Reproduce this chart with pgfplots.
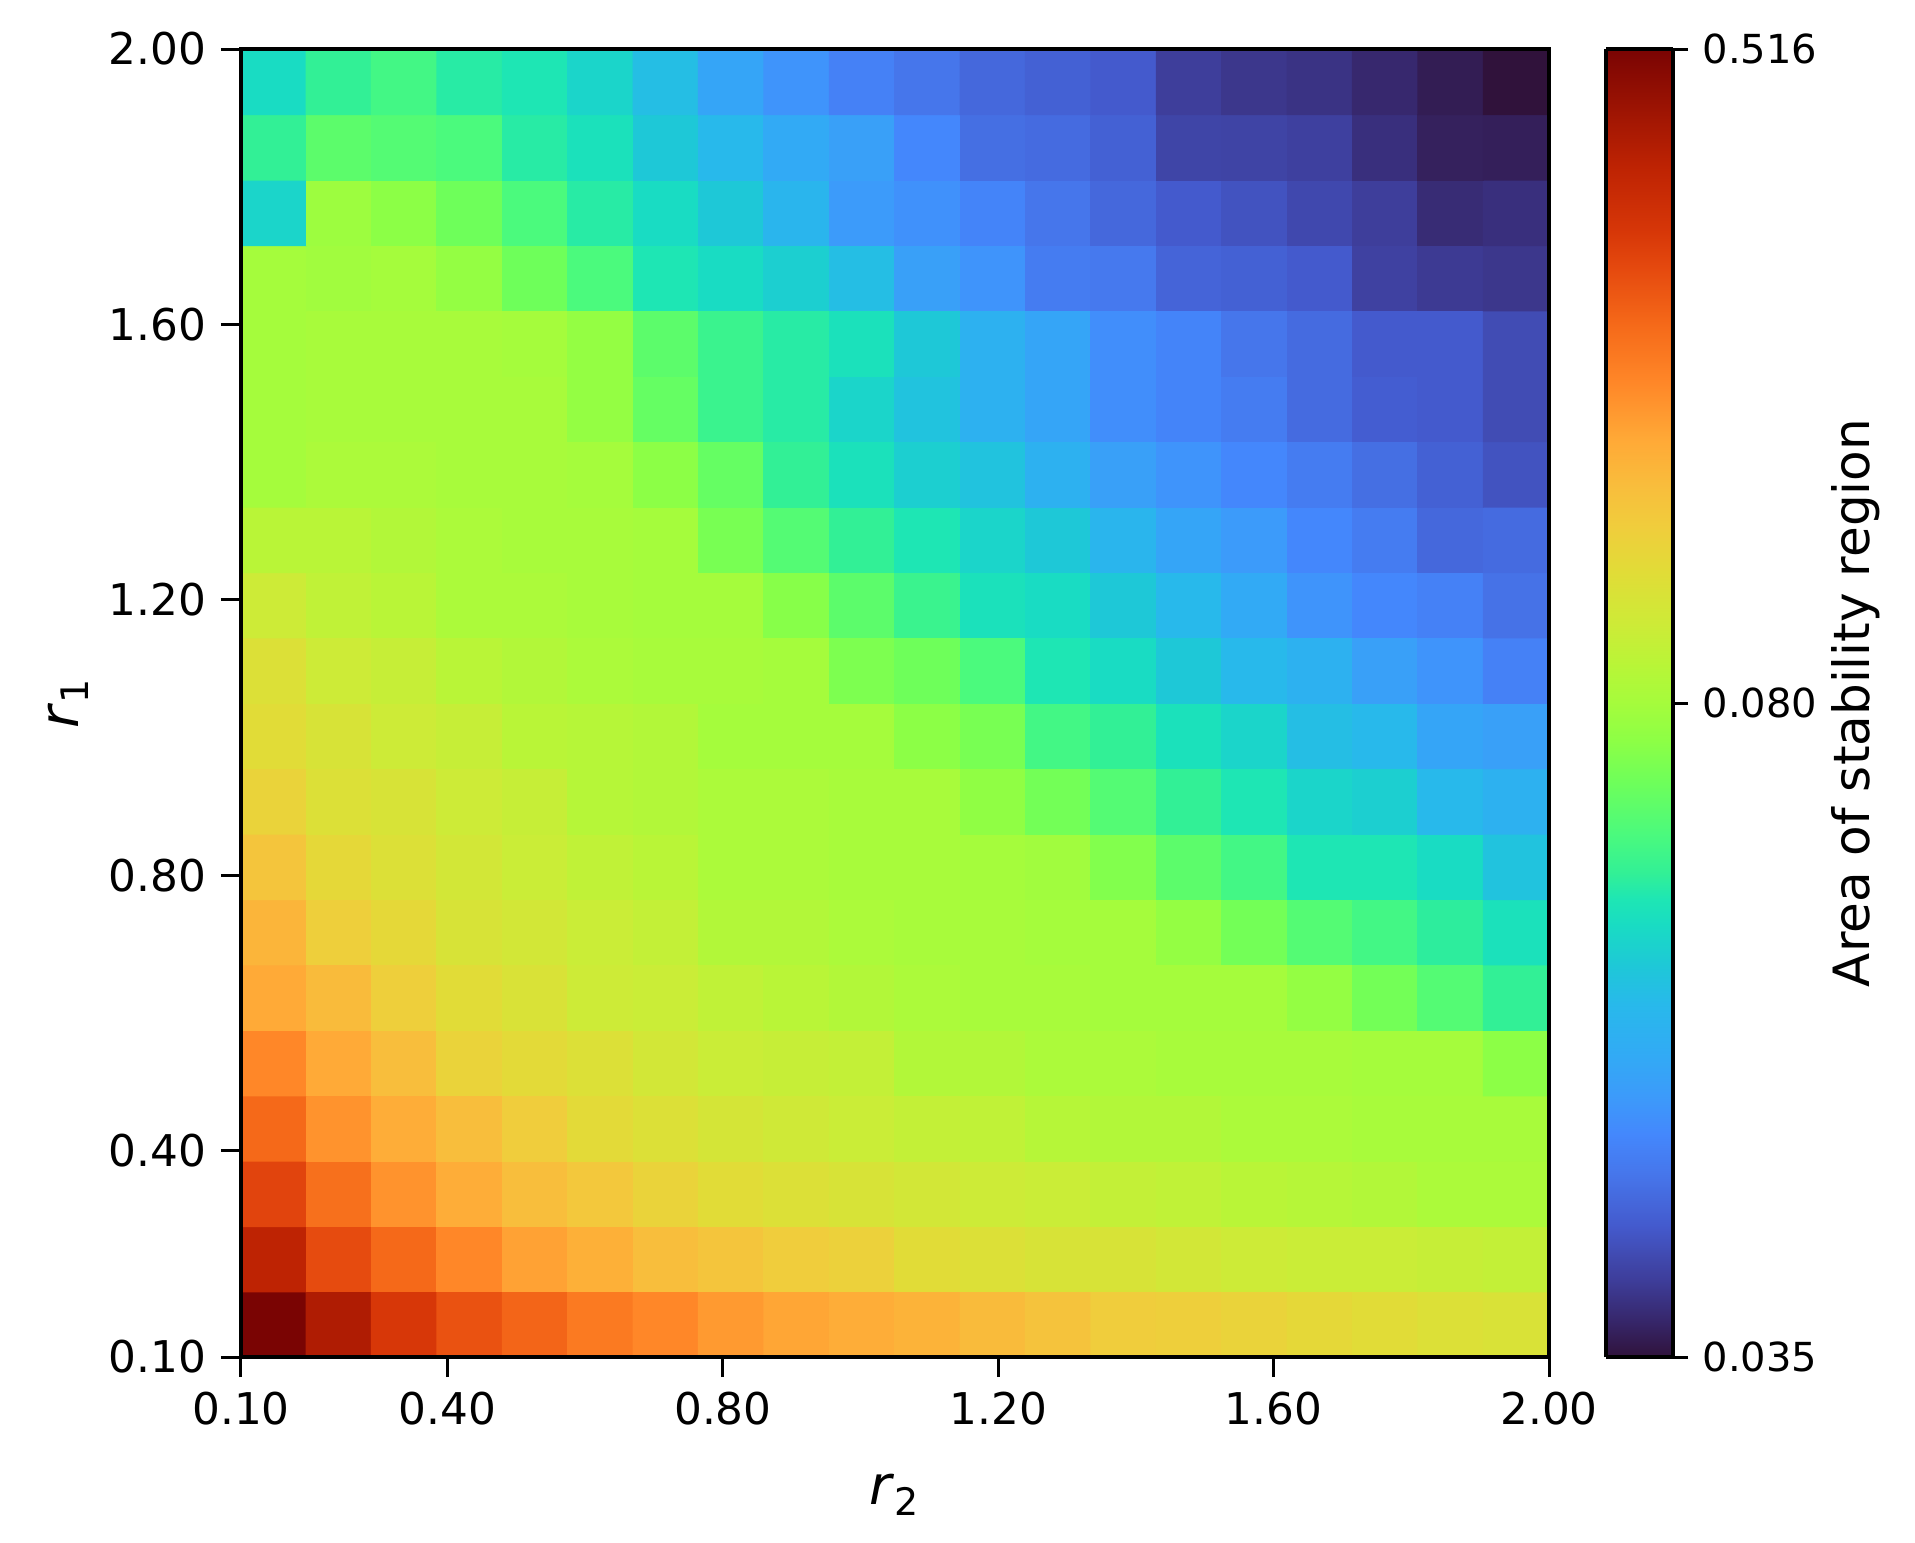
\documentclass[border=0pt]{standalone}
\usepackage{pgfplots}
\pgfplotsset{compat=1.18}
\usepackage{fontspec}
\setmainfont{DejaVu Sans}
\begin{document}
\begin{tikzpicture}
\useasboundingbox (-57.84pt,-44.4pt) rectangle (401.76pt,325.68pt);
\begin{axis}[
  scale only axis, width=313.92pt, height=313.92pt,
  at={(0,0)}, anchor=south west,
  xmin=0.1, xmax=2.0, ymin=0.1, ymax=2.0,
  xtick={0.1,0.4,0.8,1.2,1.6,2.0}, xticklabels={0.10,0.40,0.80,1.20,1.60,2.00},
  ytick={0.1,0.4,0.8,1.2,1.6,2.0}, yticklabels={0.10,0.40,0.80,1.20,1.60,2.00},
  /pgf/number format/assume math mode=true,
  tick align=outside, xtick pos=bottom, ytick pos=left,
  major tick length=4.8pt,
  every tick/.style={black, line width=0.72pt},
  axis line style={line width=0.8pt},
  axis on top,
  ticklabel style={font=\fontsize{10.5}{12}\selectfont},
  xlabel={\textit{r}\textsubscript{2}},
  ylabel={\textit{r}\textsubscript{1}},
  every axis x label/.style={at={(axis description cs:0.5,0)}, yshift=-33pt, anchor=center, font=\fontsize{13}{15}\selectfont},
  every axis y label/.style={at={(axis description cs:0,0.5)}, xshift=-41.5pt, rotate=90, anchor=center, font=\fontsize{13}{15}\selectfont},
  colormap={turbo}{rgb255(0pt)=(48,18,59) rgb255(30pt)=(55,40,110) rgb255(60pt)=(62,62,155)
    rgb255(100pt)=(68,90,205) rgb255(140pt)=(70,118,235) rgb255(170pt)=(68,135,252)
    rgb255(200pt)=(60,155,250) rgb255(230pt)=(50,170,245) rgb255(270pt)=(40,185,235)
    rgb255(300pt)=(30,200,215) rgb255(330pt)=(25,220,195) rgb255(350pt)=(30,230,180)
    rgb255(370pt)=(50,240,150) rgb255(400pt)=(75,250,125) rgb255(440pt)=(110,255,90)
    rgb255(470pt)=(140,255,70) rgb255(500pt)=(165,252,60) rgb255(530pt)=(185,245,55)
    rgb255(560pt)=(205,235,55) rgb255(600pt)=(225,220,55) rgb255(635pt)=(240,205,60)
    rgb255(665pt)=(248,190,60) rgb255(700pt)=(255,170,55) rgb255(745pt)=(255,135,40)
    rgb255(790pt)=(245,105,25) rgb255(830pt)=(230,75,15) rgb255(860pt)=(215,55,8)
    rgb255(910pt)=(190,35,3) rgb255(1000pt)=(122,4,3)},
  point meta min=0, point meta max=1,
  colorbar shift/.style={xshift=13.68pt},
  colorbar sampled={surf, shader=interp, samples=101},
  colorbar style={
    at={(parent axis.north east)}, anchor=north west,
    scale only axis, width=16.08pt, height=313.92pt,
    xmin=0, xmax=1, xtick=\empty,
    ytick={0,0.5,1}, yticklabels={0.035,0.080,0.516},
    ytick pos=right, yticklabel pos=right, tick align=outside,
    major tick length=3.6pt,
    every tick/.style={black, line width=0.72pt},
    axis line style={line width=0.8pt},
    yticklabel style={font=\fontsize{9.6}{11}\selectfont},
    ylabel={Area of stability region},
    every axis y label/.style={at={(axis description cs:1,0.5)}, xshift=43.92pt, rotate=90, anchor=center, font=\fontsize{12}{14}\selectfont},
  },
]
\addplot[matrix plot*, mesh/cols=20, point meta=explicit]
  table[row sep=\\, x expr={0.1475+0.095*mod(\coordindex,20)}, y expr={0.1475+0.095*floor(\coordindex/20+0.01)}, meta=c]{
c\\
1.00\\ 0.93\\ 0.86\\ 0.82\\ 0.795\\ 0.765\\ 0.745\\ 0.72\\ 0.705\\ 0.695\\ 0.685\\ 0.67\\ 0.655\\ 0.635\\ 0.63\\ 0.62\\ 0.61\\ 0.60\\ 0.59\\ 0.585\\
0.91\\ 0.83\\ 0.79\\ 0.745\\ 0.71\\ 0.69\\ 0.665\\ 0.65\\ 0.635\\ 0.625\\ 0.60\\ 0.59\\ 0.58\\ 0.58\\ 0.57\\ 0.56\\ 0.555\\ 0.555\\ 0.55\\ 0.545\\
0.84\\ 0.78\\ 0.73\\ 0.695\\ 0.665\\ 0.645\\ 0.62\\ 0.60\\ 0.59\\ 0.58\\ 0.57\\ 0.56\\ 0.555\\ 0.545\\ 0.54\\ 0.53\\ 0.525\\ 0.52\\ 0.51\\ 0.51\\
0.79\\ 0.73\\ 0.695\\ 0.665\\ 0.635\\ 0.605\\ 0.59\\ 0.575\\ 0.565\\ 0.555\\ 0.545\\ 0.54\\ 0.525\\ 0.52\\ 0.52\\ 0.51\\ 0.51\\ 0.505\\ 0.505\\ 0.505\\
0.745\\ 0.70\\ 0.665\\ 0.62\\ 0.605\\ 0.59\\ 0.57\\ 0.555\\ 0.55\\ 0.545\\ 0.52\\ 0.52\\ 0.51\\ 0.51\\ 0.505\\ 0.505\\ 0.505\\ 0.50\\ 0.50\\ 0.47\\
0.70\\ 0.67\\ 0.63\\ 0.60\\ 0.585\\ 0.56\\ 0.555\\ 0.54\\ 0.53\\ 0.52\\ 0.51\\ 0.505\\ 0.505\\ 0.50\\ 0.50\\ 0.50\\ 0.48\\ 0.445\\ 0.41\\ 0.37\\
0.68\\ 0.63\\ 0.61\\ 0.58\\ 0.57\\ 0.555\\ 0.545\\ 0.52\\ 0.52\\ 0.51\\ 0.505\\ 0.505\\ 0.50\\ 0.50\\ 0.48\\ 0.445\\ 0.41\\ 0.39\\ 0.365\\ 0.34\\
0.65\\ 0.61\\ 0.59\\ 0.57\\ 0.555\\ 0.54\\ 0.53\\ 0.51\\ 0.51\\ 0.505\\ 0.505\\ 0.50\\ 0.495\\ 0.46\\ 0.42\\ 0.39\\ 0.35\\ 0.35\\ 0.33\\ 0.29\\
0.62\\ 0.59\\ 0.58\\ 0.56\\ 0.55\\ 0.525\\ 0.52\\ 0.51\\ 0.51\\ 0.505\\ 0.505\\ 0.475\\ 0.445\\ 0.41\\ 0.37\\ 0.35\\ 0.32\\ 0.31\\ 0.27\\ 0.25\\
0.60\\ 0.58\\ 0.56\\ 0.55\\ 0.53\\ 0.525\\ 0.52\\ 0.50\\ 0.50\\ 0.50\\ 0.47\\ 0.45\\ 0.39\\ 0.37\\ 0.34\\ 0.32\\ 0.28\\ 0.27\\ 0.22\\ 0.21\\
0.59\\ 0.56\\ 0.55\\ 0.53\\ 0.52\\ 0.51\\ 0.505\\ 0.505\\ 0.50\\ 0.455\\ 0.44\\ 0.40\\ 0.35\\ 0.33\\ 0.30\\ 0.27\\ 0.25\\ 0.21\\ 0.19\\ 0.16\\
0.56\\ 0.54\\ 0.53\\ 0.51\\ 0.51\\ 0.505\\ 0.50\\ 0.50\\ 0.465\\ 0.42\\ 0.38\\ 0.34\\ 0.33\\ 0.30\\ 0.27\\ 0.23\\ 0.19\\ 0.17\\ 0.16\\ 0.135\\
0.53\\ 0.53\\ 0.52\\ 0.51\\ 0.505\\ 0.505\\ 0.50\\ 0.45\\ 0.41\\ 0.37\\ 0.35\\ 0.32\\ 0.30\\ 0.26\\ 0.22\\ 0.20\\ 0.17\\ 0.15\\ 0.12\\ 0.125\\
0.50\\ 0.51\\ 0.51\\ 0.505\\ 0.505\\ 0.50\\ 0.47\\ 0.43\\ 0.37\\ 0.34\\ 0.31\\ 0.29\\ 0.25\\ 0.21\\ 0.19\\ 0.17\\ 0.15\\ 0.13\\ 0.11\\ 0.09\\
0.50\\ 0.505\\ 0.505\\ 0.505\\ 0.505\\ 0.48\\ 0.43\\ 0.38\\ 0.36\\ 0.32\\ 0.29\\ 0.25\\ 0.22\\ 0.18\\ 0.165\\ 0.15\\ 0.125\\ 0.105\\ 0.10\\ 0.08\\
0.50\\ 0.505\\ 0.505\\ 0.505\\ 0.50\\ 0.48\\ 0.42\\ 0.38\\ 0.36\\ 0.34\\ 0.30\\ 0.25\\ 0.22\\ 0.18\\ 0.165\\ 0.14\\ 0.125\\ 0.10\\ 0.10\\ 0.08\\
0.50\\ 0.495\\ 0.50\\ 0.48\\ 0.44\\ 0.40\\ 0.35\\ 0.33\\ 0.31\\ 0.28\\ 0.21\\ 0.19\\ 0.15\\ 0.145\\ 0.115\\ 0.11\\ 0.10\\ 0.065\\ 0.055\\ 0.05\\
0.32\\ 0.49\\ 0.47\\ 0.44\\ 0.40\\ 0.36\\ 0.33\\ 0.30\\ 0.26\\ 0.20\\ 0.185\\ 0.165\\ 0.14\\ 0.12\\ 0.10\\ 0.09\\ 0.075\\ 0.06\\ 0.035\\ 0.04\\
0.37\\ 0.42\\ 0.41\\ 0.40\\ 0.36\\ 0.34\\ 0.30\\ 0.27\\ 0.23\\ 0.21\\ 0.17\\ 0.13\\ 0.125\\ 0.11\\ 0.07\\ 0.068\\ 0.063\\ 0.04\\ 0.02\\ 0.018\\
0.33\\ 0.37\\ 0.39\\ 0.36\\ 0.35\\ 0.32\\ 0.28\\ 0.22\\ 0.19\\ 0.16\\ 0.14\\ 0.12\\ 0.11\\ 0.10\\ 0.06\\ 0.05\\ 0.045\\ 0.03\\ 0.015\\ 0.00\\
};
\end{axis}
\end{tikzpicture}
\end{document}
